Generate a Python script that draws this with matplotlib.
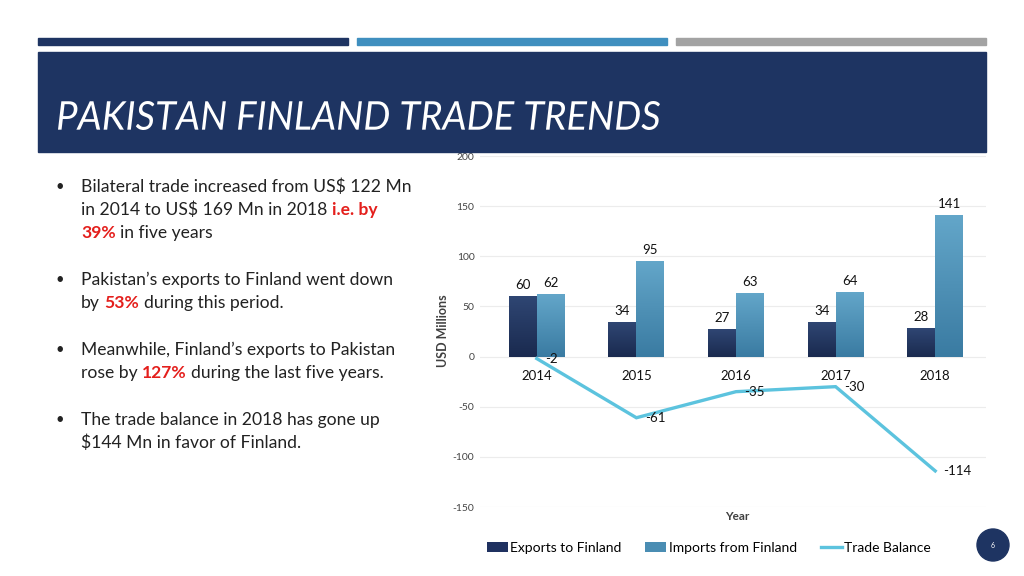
import matplotlib
matplotlib.use("Agg")
import matplotlib.pyplot as plt
import numpy as np
from matplotlib.patches import Rectangle, Ellipse, Patch, PathPatch
from matplotlib.lines import Line2D
from matplotlib.textpath import TextPath
from matplotlib.font_manager import FontProperties
from matplotlib.transforms import Affine2D

# ------------------------------------------------------------
# Data
# ------------------------------------------------------------
years = ["2014", "2015", "2016", "2017", "2018"]
exports = [60, 34, 27, 34, 28]
imports = [62, 95, 63, 64, 141]
balance = [-2, -61, -35, -30, -114]
y_ticks = [-150, -100, -50, 0, 50, 100, 150, 200]

title = "PAKISTAN FINLAND TRADE TRENDS"

# each bullet: lines -> pieces (text, highlighted); a space sits between pieces
bullets = [
    [[("Bilateral trade increased from US$ 122 Mn", False)],
     [("in 2014 to US$ 169 Mn in 2018", False), ("i.e. by", True)],
     [("39%", True), ("in five years", False)]],
    [[("Pakistan\u2019s exports to Finland went down", False)],
     [("by", False), ("53%", True), ("during this period.", False)]],
    [[("Meanwhile, Finland\u2019s exports to Pakistan", False)],
     [("rose by", False), ("127%", True), ("during the last five years.", False)]],
    [[("The trade balance in 2018 has gone up", False)],
     [("$144 Mn in favor of Finland.", False)]],
]

NAVY = "#1e3462"
MID_BLUE = "#3f8fbf"
GREY = "#a3a3a3"
RED = "#e41f1c"
LINE = "#5cc3de"
FONT = ["Lato", "DejaVu Sans"]

W, H = 1024, 576


def fx(x):
    return x / W


def fy(y):
    return 1 - y / H


fig = plt.figure(figsize=(W / 100, H / 100), dpi=100)
fig.patch.set_facecolor("white")
to_fig = Affine2D().scale(1 / W, 1 / H) + fig.transFigure

# ------------------------------------------------------------
# Slide decoration
# ------------------------------------------------------------
for x0, col in [(38, NAVY), (357, MID_BLUE), (676, GREY)]:
    fig.patches.append(Rectangle((fx(x0), fy(45)), 310 / W, 7 / H,
                                 transform=fig.transFigure, color=col))

fig.patches.append(Rectangle((fx(38), fy(152)), 948 / W, 100 / H,
                             transform=fig.transFigure, color=NAVY))

# condensed italic title: squeeze a text path into the box it fills on the slide
tp = TextPath((0, 0), title, size=100,
              prop=FontProperties(family=FONT, style="italic"))
bb = tp.get_extents()
squeeze = (Affine2D().translate(-bb.x0, -bb.y0)
           .scale(602 / bb.width, 29 / bb.height)
           .translate(58, H - 130))
fig.patches.append(PathPatch(tp, transform=squeeze + to_fig,
                             facecolor="white", edgecolor="none"))

fig.patches.append(Ellipse((fx(993), fy(545)), 32 / W, 32 / H,
                           transform=fig.transFigure, color=NAVY))
fig.text(fx(993), fy(545), "6", color="white", fontsize=5, ha="center",
         va="center", family=FONT)

# ------------------------------------------------------------
# Bullet text
# ------------------------------------------------------------
renderer = fig.canvas.get_renderer()
BODY = 12.6


def text_width(s, weight="normal"):
    t = fig.text(0, 0, s, fontsize=BODY, family=FONT, weight=weight)
    w = t.get_window_extent(renderer).width
    t.remove()
    return w


space_w = text_width("a a") - text_width("aa")

y = 187
for bullet in bullets:
    fig.text(fx(60), fy(y), "\u2022", fontsize=BODY - 2, family=FONT,
             va="center", ha="center", color="#222222")
    for line in bullet:
        x = 81
        for i, (piece, hl) in enumerate(line):
            if i > 0:
                x += space_w
            weight = "bold" if hl else "normal"
            t = fig.text(fx(x), fy(y), piece, fontsize=BODY, family=FONT,
                         weight=weight, color=RED if hl else "#222222",
                         va="center", ha="left")
            x += t.get_window_extent(renderer).width
        y += 23
    y += 24

# ------------------------------------------------------------
# Chart
# ------------------------------------------------------------
ax = fig.add_axes([fx(480), fy(507), (986 - 480) / W, (507 - 156) / H])
for s in ax.spines.values():
    s.set_visible(False)
ax.set_yticks(y_ticks)
ax.set_yticklabels([str(v) for v in y_ticks], fontsize=7.5, color="#444444",
                   family=FONT)
ax.tick_params(axis="y", length=0, pad=4)
ax.set_xticks([])
ax.grid(axis="y", color="#ececec", lw=0.8)
ax.set_axisbelow(True)

pos = np.arange(len(years))
bw = 0.28


def gradient_bars(xs, vals, top_col, bot_col):
    bars = ax.bar(xs, vals, width=bw, color=bot_col, zorder=2)
    cmap = matplotlib.colors.LinearSegmentedColormap.from_list("g", [bot_col, top_col])
    grad = np.linspace(0, 1, 64).reshape(-1, 1)
    for b in bars:
        x0, y0 = b.get_xy()
        im = ax.imshow(grad, extent=[x0, x0 + b.get_width(), y0, y0 + b.get_height()],
                       origin="lower", aspect="auto", cmap=cmap, zorder=2.1)
        im.set_clip_path(b)
    return bars


gradient_bars(pos - bw / 2, exports, "#2f4673", "#1a2a4f")
gradient_bars(pos + bw / 2, imports, "#63a6c9", "#3a7ba2")
ax.set_xlim(-0.57, 4.51)
ax.set_ylim(-150, 200)

ax.plot(pos, balance, color=LINE, lw=2.4, zorder=3, solid_joinstyle="miter")

for i in range(len(years)):
    ax.annotate(str(exports[i]), (pos[i] - bw / 2, exports[i]), xytext=(0, 4),
                textcoords="offset points", ha="center", va="bottom",
                fontsize=9.5, family=FONT, color="#111111")
    ax.annotate(str(imports[i]), (pos[i] + bw / 2, imports[i]), xytext=(0, 4),
                textcoords="offset points", ha="center", va="bottom",
                fontsize=9.5, family=FONT, color="#111111")
    ax.annotate(str(balance[i]), (pos[i], balance[i]), xytext=(6, 0),
                textcoords="offset points", ha="left", va="center",
                fontsize=9.5, family=FONT, color="#111111", zorder=4)
    ax.annotate(years[i], (pos[i], 0), xytext=(0, -10),
                textcoords="offset points", ha="center", va="top",
                fontsize=9.5, family=FONT, color="#111111")

fig.text(fx(443), fy(331), "USD Millions", rotation=90, ha="center", va="center",
         fontsize=9, weight="bold", family=FONT, color="#404040")
fig.text(fx(737), fy(516), "Year", ha="center", va="center",
         fontsize=8.5, weight="bold", family=FONT, color="#404040")

handles = [
    Patch(facecolor="#1f3160", label="Exports to Finland"),
    Patch(facecolor="#4a8db3", label="Imports from Finland"),
    Line2D([0], [0], color=LINE, lw=2.4, label="Trade Balance"),
]
fig.legend(handles=handles, loc="center", bbox_to_anchor=(fx(709), fy(548)),
           ncol=3, frameon=False, prop={"family": FONT, "size": 10},
           handlelength=1.5, handleheight=0.65, handletextpad=0.2,
           columnspacing=1.7)

fig.savefig("out.png", dpi=100)
